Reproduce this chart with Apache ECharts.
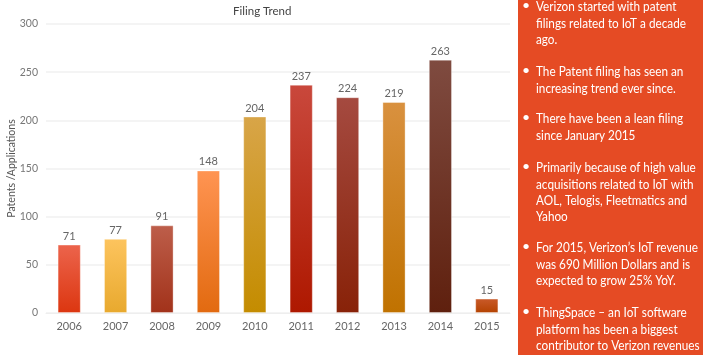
<!DOCTYPE html>
<html><head><meta charset="utf-8">
<script src="https://cdn.jsdelivr.net/npm/echarts@6/dist/echarts.min.js"></script>
<style>html,body{margin:0;padding:0;background:#fff}#c{width:703px;height:355px}</style>
</head><body><div id="c"></div>
<script>
const years = ['2006','2007','2008','2009','2010','2011','2012','2013','2014','2015'];
const filings = [71, 77, 91, 148, 204, 237, 224, 219, 263, 15];
const topColors = ['#EC644C','#FDC45E','#BD5E4A','#FF9452','#D8A548','#C9483C','#A54A40','#D9913F','#7F4B40','#C95A2A'];
const bottomColors = ['#DC3610','#E8A92E','#A2321A','#E26A10','#C48C00','#AE1800','#882208','#C07200','#5F200E','#B44200'];
const yTicks = [0, 50, 100, 150, 200, 250, 300];
const bullets = [
  ['Verizon started with patent', 'filings related to IoT a decade', 'ago.'],
  ['The Patent filing has seen an', 'increasing trend ever since.'],
  ['There have been a lean filing', 'since January 2015'],
  ['Primarily because of high value', 'acquisitions related to IoT with', 'AOL, Telogis, Fleetmatics and', 'Yahoo'],
  ['For 2015, Verizon\u2019s IoT revenue', 'was 690 Million Dollars and is', 'expected to grow 25% YoY.'],
  ['ThingSpace \u2013 an IoT software', 'platform has been a biggest', 'contributor to Verizon revenues']
];
const bulletCenters = [7, 72, 119, 168, 248, 313];

const chart = echarts.init(document.getElementById('c'));
const font = 'Lato, "Noto Sans", sans-serif';
const graphics = [{type:'rect', shape:{x:518, y:0, width:185, height:355}, style:{fill:'#E54B24'}}];
bulletCenters.forEach((c, i) => {
  graphics.push({type:'text', x:522, y:c-9, style:{text:'\u2022', fill:'#fff', font:'14px ' + font}});
  graphics.push({type:'text', x:536, y:c-8.2, scaleX:0.84, style:{text:bullets[i].join('\n'), fill:'#fff', font:'14px ' + font, lineHeight:16.3}});
});

chart.setOption({
  animation:false,
  title:{text:'Filing Trend', left:228, top:0, textStyle:{fontSize:11.5, fontWeight:'normal', color:'#444', fontFamily:font}},
  grid:{left:46, right:193, top:24, bottom:42, outerBoundsMode:'none', containLabel:false},
  xAxis:{type:'category', data:years, axisLine:{lineStyle:{color:'#eee'}}, axisTick:{show:false},
    axisLabel:{color:'#666', fontSize:11, fontFamily:font, margin:8}},
  yAxis:{type:'value', min:yTicks[0], max:yTicks[yTicks.length-1], interval:50,
    name:'Patents /Applications', nameLocation:'middle', nameGap:29, nameRotate:90, nameMoveOverlap:false,
    nameTextStyle:{color:'#555', fontSize:10.5, fontFamily:font},
    axisLine:{show:false}, axisTick:{show:false},
    axisLabel:{color:'#777', fontSize:10.5, fontFamily:font, margin:8},
    splitLine:{lineStyle:{color:'#f0f0f0', width:1.5}}},
  series:[{type:'bar', barWidth:'50%',
    data: filings.map((v,i)=>({value:v, itemStyle:{
      color:new echarts.graphic.LinearGradient(0,0,0,1,[{offset:0,color:topColors[i]},{offset:1,color:bottomColors[i]}]),
      borderColor:'rgba(255,255,255,0.35)', borderWidth:1}})),
    label:{show:true, position:'top', color:'#666', fontSize:11, fontFamily:font, distance:3}}],
  graphic: graphics
});
</script></body></html>
